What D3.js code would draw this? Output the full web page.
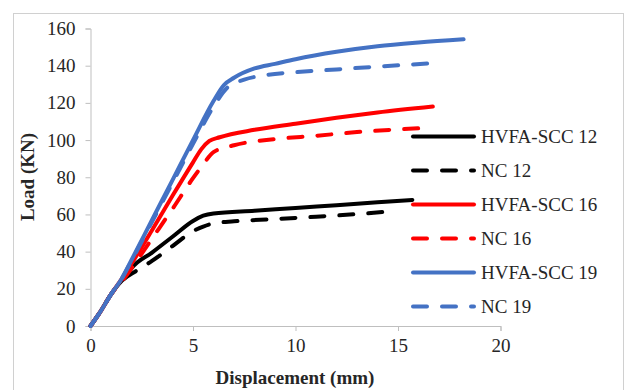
<!DOCTYPE html>
<html>
<head>
<meta charset="utf-8">
<script src="https://cdn.jsdelivr.net/npm/d3@7"></script>
<style>
  body { margin: 0; background: #fff; }
  svg text { font-family: "Liberation Serif", "Times New Roman", serif; }
</style>
</head>
<body>
<div id="chart"></div>
<script>
// series data (displacement mm, load kN)
const names = ["HVFA-SCC 12", "NC 12", "HVFA-SCC 16", "NC 16", "HVFA-SCC 19", "NC 19"];
const colors = ["#000000", "#000000", "#ff0000", "#ff0000", "#4472c4", "#4472c4"];
const dashed = [false, true, false, true, false, true];

const xHvfa12 = [0, 0.5, 1, 1.5, 1.7, 2, 3, 4, 5, 5.5, 6, 8, 10, 12, 14, 15.7];
const yHvfa12 = [0, 8, 17, 24, 26, 31, 39.5, 48, 56.5, 59.3, 60.5, 62, 63.5, 65, 66.5, 67.8];
const xNc12 = [0, 0.5, 1, 1.6, 2.1, 3, 4, 5, 5.5, 6, 7, 9, 11, 13, 14.5];
const yNc12 = [0, 8, 17, 25, 28.7, 35, 43, 51, 53.5, 55.2, 56.3, 57.5, 58.8, 60.2, 61.5];
const xHvfa16 = [0, 0.5, 1, 1.5, 2, 3, 4, 5, 5.4, 5.8, 6.3, 8, 10, 12, 14, 16.7];
const yHvfa16 = [0, 8, 17, 25, 33.5, 51.5, 70, 88, 95, 99.5, 101.5, 105.5, 108.8, 112, 114.8, 118];
const xNc16 = [0, 0.5, 1, 1.6, 2, 3, 4, 5, 5.5, 6, 7, 9, 11, 13, 16];
const yNc16 = [0, 8, 17, 25, 31, 47, 63, 79.5, 87, 93.5, 97.2, 100.5, 102.3, 104.3, 106.3];
const xHvfa19 = [0, 0.5, 1, 1.5, 2, 3, 4, 5, 6, 6.5, 7, 8, 9, 10, 12, 14, 16, 18.2];
const yHvfa19 = [0, 8, 17, 25, 35.5, 57, 78.5, 100, 121, 129.5, 133.5, 138.5, 141, 143.5, 147.5, 150.5, 152.5, 154.2];
const xNc19 = [0, 0.5, 1, 1.5, 2, 3, 4, 5, 6, 6.7, 7.5, 8.6, 10, 12, 14, 16.7];
const yNc19 = [0, 8, 17, 25, 35, 56, 77, 98, 118, 128.5, 132.5, 135, 136.5, 138, 139.5, 141.3];

const xTicks = [0, 5, 10, 15, 20];
const yTicks = [0, 20, 40, 60, 80, 100, 120, 140, 160];

const xs = [xHvfa12, xNc12, xHvfa16, xNc16, xHvfa19, xNc19];
const ys = [yHvfa12, yNc12, yHvfa16, yNc16, yHvfa19, yNc19];

const W = 625, H = 390;
const svg = d3.select("#chart").append("svg").attr("width", W).attr("height", H);

// outer frame
svg.append("rect")
  .attr("x", 13.5).attr("y", 13.5)
  .attr("width", 610).attr("height", 420)
  .attr("fill", "none").attr("stroke", "#d0d0d0");

const x = d3.scaleLinear().domain([0, 20]).range([90.5, 500.5]);
const y = d3.scaleLinear().domain([0, 160]).range([326, 28.5]);

const axisColor = "#bfbfbf";

const gx = svg.append("g").attr("transform", "translate(0," + y(0) + ")")
  .call(d3.axisBottom(x).tickValues(xTicks).tickSize(5).tickPadding(8));
const gy = svg.append("g").attr("transform", "translate(" + x(0) + ",0)")
  .call(d3.axisLeft(y).tickValues(yTicks).tickSize(5).tickPadding(10));

[gx, gy].forEach(g => {
  g.attr("font-family", "Liberation Serif");
  g.selectAll("path, line").attr("stroke", axisColor);
  g.selectAll("text").attr("font-size", 19).attr("fill", "#262626");
});

// axis titles
svg.append("text")
  .attr("x", 295).attr("y", 384)
  .attr("text-anchor", "middle")
  .attr("font-size", 19).attr("font-weight", "bold").attr("fill", "#262626")
  .text("Displacement (mm)");

svg.append("text")
  .attr("transform", "translate(34,177) rotate(-90)")
  .attr("text-anchor", "middle")
  .attr("font-size", 19).attr("font-weight", "bold").attr("fill", "#262626")
  .text("Load (KN)");

// curves
const line = d3.line().x(d => x(d[0])).y(d => y(d[1])).curve(d3.curveMonotoneX);

names.forEach((n, i) => {
  const pts = xs[i].map((v, j) => [v, ys[i][j]]);
  svg.append("path")
    .datum(pts)
    .attr("fill", "none")
    .attr("stroke", colors[i])
    .attr("stroke-width", 4)
    .attr("stroke-linecap", "round")
    .attr("stroke-linejoin", "round")
    .attr("stroke-dasharray", dashed[i] ? "14,15" : null)
    .attr("d", line);
});

// legend
const leg = svg.append("g");
names.forEach((n, i) => {
  const ly = 136.5 + i * 34;
  leg.append("line")
    .attr("x1", 413).attr("x2", 474)
    .attr("y1", ly).attr("y2", ly)
    .attr("stroke", colors[i])
    .attr("stroke-width", 4)
    .attr("stroke-linecap", "round")
    .attr("stroke-dasharray", dashed[i] ? "14,15" : null);
  leg.append("text")
    .attr("x", 481).attr("y", ly + 6.5)
    .attr("font-size", 19).attr("fill", "#262626")
    .text(n);
});
</script>
</body>
</html>
